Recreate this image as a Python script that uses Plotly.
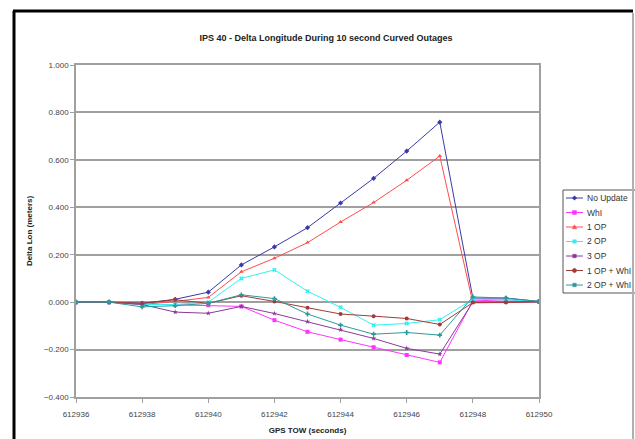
import plotly.graph_objects as go

# ---- data ----
gps_tow = [612936, 612937, 612938, 612939, 612940, 612941, 612942, 612943,
           612944, 612945, 612946, 612947, 612948, 612949, 612950]
no_update = [0, 0, -0.005, 0.012, 0.042, 0.157, 0.233, 0.314, 0.418, 0.522, 0.637, 0.759, 0.017, 0.017, 0.003]
whi = [0, 0, -0.008, -0.012, -0.013, -0.018, -0.076, -0.125, -0.158, -0.190, -0.223, -0.254, 0.005, 0.010, 0.003]
op1 = [0, 0, -0.010, 0.003, 0.020, 0.128, 0.185, 0.251, 0.338, 0.420, 0.514, 0.616, -0.003, 0.000, 0.002]
op2 = [0, 0, -0.010, -0.010, 0.000, 0.100, 0.136, 0.046, -0.022, -0.097, -0.090, -0.074, 0.012, 0.010, 0.003]
op3 = [0, 0, -0.010, -0.042, -0.047, -0.018, -0.048, -0.082, -0.116, -0.153, -0.195, -0.219, 0.000, 0.002, 0.002]
op1_whi = [0, 0, -0.005, 0.010, -0.005, 0.027, 0.003, -0.024, -0.050, -0.059, -0.069, -0.094, -0.002, -0.002, 0.002]
op2_whi = [0, 0, -0.020, -0.015, -0.005, 0.031, 0.015, -0.050, -0.097, -0.135, -0.128, -0.139, 0.022, 0.017, 0.003]

series_names = ["No Update", "WhI", "1 OP", "2 OP", "3 OP", "1 OP + WhI", "2 OP + WhI"]
series_values = [no_update, whi, op1, op2, op3, op1_whi, op2_whi]
colors = ["#3a3aa6", "#ff33ff", "#ff4d4d", "#33f0f0", "#8a3a9a", "#a33a3a", "#2e9a9a"]
symbols = ["diamond", "square", "triangle-up", "x", "star", "circle", "cross"]

y_ticks = [-0.4, -0.2, 0.0, 0.2, 0.4, 0.6, 0.8, 1.0]
x_ticks = [612936, 612938, 612940, 612942, 612944, 612946, 612948, 612950]

W, H = 635, 439
L, R, T, B = 76, 96, 65, 42
pw, ph = W - L - R, H - T - B


def px(x):
    return (x - L) / pw


def py(y):
    return (H - B - y) / ph


def marker_path(cx, cy, sym, r=2.2):
    """SVG path (paper coords) for a small legend marker centred at pixel (cx, cy)."""
    if sym == "diamond":
        pts = [(cx, cy - r), (cx + r, cy), (cx, cy + r), (cx - r, cy)]
    elif sym == "square":
        pts = [(cx - r * 0.9, cy - r * 0.9), (cx + r * 0.9, cy - r * 0.9),
               (cx + r * 0.9, cy + r * 0.9), (cx - r * 0.9, cy + r * 0.9)]
    elif sym == "triangle-up":
        pts = [(cx, cy - r), (cx + r, cy + r * 0.8), (cx - r, cy + r * 0.8)]
    elif sym == "circle":
        pts = [(cx + r, cy), (cx + 0.7 * r, cy - 0.7 * r), (cx, cy - r), (cx - 0.7 * r, cy - 0.7 * r),
               (cx - r, cy), (cx - 0.7 * r, cy + 0.7 * r), (cx, cy + r), (cx + 0.7 * r, cy + 0.7 * r)]
    else:  # x, star, cross -> small blob
        pts = [(cx - r * 0.8, cy - r * 0.8), (cx + r * 0.8, cy - r * 0.8),
               (cx + r * 0.8, cy + r * 0.8), (cx - r * 0.8, cy + r * 0.8)]
    d = "M " + " L ".join(f"{px(a):.5f},{py(b):.5f}" for a, b in pts) + " Z"
    return d


fig = go.Figure()
for name, vals, c, s in zip(series_names, series_values, colors, symbols):
    fig.add_trace(go.Scatter(
        x=gps_tow, y=vals, name=name, mode="lines+markers", showlegend=False,
        line=dict(color=c, width=1),
        marker=dict(color=c, size=4, symbol=s, line=dict(width=0, color=c)),
    ))

# ---- custom compact legend ----
leg_x0, leg_y0, leg_step = 563, 190, 14.5
leg_rows = [leg_y0 + 8 + i * leg_step for i in range(len(series_names))]
shapes = [
    dict(type="rect", xref="paper", yref="paper",
         x0=px(leg_x0), x1=px(W + 10), y0=py(leg_y0), y1=py(leg_y0 + 8 + 6 * leg_step + 8),
         line=dict(color="#555555", width=1), fillcolor="white", layer="below"),
]
annotations = []
for name, c, s, yy in zip(series_names, colors, symbols, leg_rows):
    shapes.append(dict(type="line", xref="paper", yref="paper",
                       x0=px(leg_x0 + 3), x1=px(leg_x0 + 20), y0=py(yy), y1=py(yy),
                       line=dict(color=c, width=1), layer="above"))
    shapes.append(dict(type="path", xref="paper", yref="paper",
                       path=marker_path(leg_x0 + 11.5, yy, s),
                       fillcolor=c, line=dict(color=c, width=0.5), layer="above"))
    annotations.append(dict(text=name, xref="paper", yref="paper",
                            x=px(leg_x0 + 22), y=py(yy), xanchor="left", yanchor="middle",
                            showarrow=False,
                            font=dict(family="Arial", size=8.5, color="#333333")))

axis_font = dict(family="Arial", size=8, color="#444444")
fig.update_layout(
    width=W, height=H,
    margin=dict(l=L, r=R, t=T, b=B, autoexpand=False),
    paper_bgcolor="white", plot_bgcolor="white",
    font=dict(family="Arial", size=8, color="#222222"),
    title=dict(text="<b>IPS 40 - Delta Longitude During 10 second Curved Outages</b>",
               x=px(326), xref="paper", xanchor="center",
               y=1 - 38 / H, yanchor="middle",
               font=dict(family="Arial", size=9, color="#222222")),
    showlegend=False,
    xaxis=dict(range=[612936, 612950], tickvals=x_ticks,
               ticktext=[str(v) for v in x_ticks],
               showgrid=False, zeroline=False,
               showline=True, linecolor="#a0a0a0", linewidth=1.5, mirror=True,
               ticks="outside", ticklen=4, tickcolor="#a0a0a0",
               ticklabelstandoff=5,
               tickfont=axis_font,
               title=dict(text="<b>GPS TOW (seconds)</b>", standoff=9,
                          font=dict(family="Arial", size=8, color="#222222"))),
    yaxis=dict(range=[-0.4, 1.0], tickvals=y_ticks, tickformat=".3f",
               showgrid=True, gridcolor="#a0a0a0", gridwidth=1.5,
               zeroline=False,
               showline=True, linecolor="#a0a0a0", linewidth=1.5, mirror=True,
               ticks="outside", ticklen=4, tickcolor="#a0a0a0",
               tickfont=axis_font,
               title=dict(text="<b>Delta Lon (meters)</b>", standoff=10,
                          font=dict(family="Arial", size=8, color="#222222"))),
    shapes=shapes + [
        dict(type="line", xref="paper", yref="paper",
             x0=px(14), x1=px(14), y0=py(11), y1=py(H + 5),
             line=dict(color="black", width=3)),
        dict(type="line", xref="paper", yref="paper",
             x0=px(13), x1=px(633), y0=py(11), y1=py(11),
             line=dict(color="black", width=3)),
        dict(type="line", xref="paper", yref="paper",
             x0=px(633), x1=px(633), y0=py(13), y1=py(H + 5),
             line=dict(color="#b0b0b0", width=2), layer="above"),
    ],
    annotations=annotations,
)

fig.write_html("out.html")
